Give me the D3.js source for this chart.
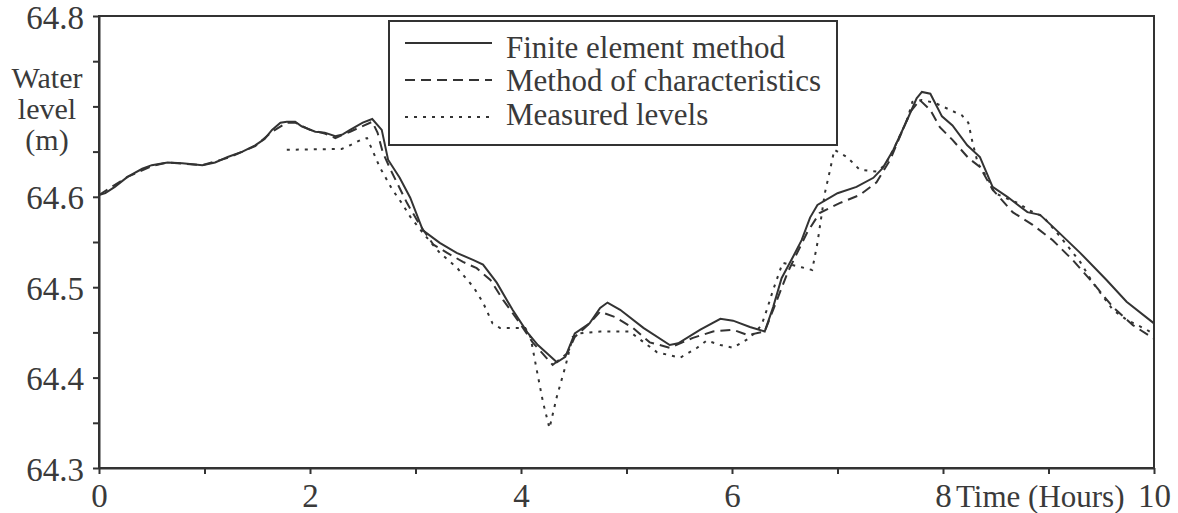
<!DOCTYPE html>
<html>
<head>
<meta charset="utf-8">
<script src="https://cdn.jsdelivr.net/npm/d3@7"></script>
</head>
<body style="margin:0">
<script>
// finite element method (solid)
const femT = [0, 0.06, 0.15, 0.27, 0.41, 0.5, 0.65, 0.79, 0.98, 1.1, 1.22, 1.36, 1.48, 1.57, 1.64, 1.72, 1.78, 1.86, 1.92, 2.05, 2.14, 2.24, 2.31, 2.38, 2.5, 2.59, 2.68, 2.74, 2.85, 2.95, 3.07, 3.23, 3.39, 3.55, 3.64, 3.77, 3.92, 4.06, 4.16, 4.34, 4.42, 4.51, 4.65, 4.75, 4.82, 4.94, 5.16, 5.41, 5.49, 5.7, 5.89, 6.01, 6.17, 6.31, 6.39, 6.47, 6.58, 6.66, 6.74, 6.81, 7.0, 7.18, 7.34, 7.43, 7.53, 7.66, 7.75, 7.8, 7.88, 7.99, 8.09, 8.23, 8.35, 8.47, 8.61, 8.8, 8.92, 9.04, 9.3, 9.55, 9.74, 10];
const femH = [64.602, 64.604, 64.611, 64.622, 64.631, 64.635, 64.638, 64.637, 64.635, 64.638, 64.644, 64.65, 64.657, 64.664, 64.674, 64.682, 64.683, 64.683, 64.678, 64.672, 64.671, 64.667, 64.669, 64.674, 64.682, 64.686, 64.674, 64.641, 64.621, 64.599, 64.563, 64.549, 64.538, 64.53, 64.525, 64.505, 64.475, 64.45, 64.436, 64.417, 64.423, 64.449, 64.46, 64.477, 64.483, 64.475, 64.455, 64.436, 64.438, 64.453, 64.465, 64.463, 64.456, 64.451, 64.478, 64.51, 64.534, 64.552, 64.577, 64.591, 64.604, 64.611, 64.621, 64.632, 64.652, 64.685, 64.709, 64.716, 64.714, 64.689, 64.679, 64.657, 64.644, 64.611, 64.6, 64.583, 64.58, 64.567, 64.538, 64.508, 64.484, 64.46];

// method of characteristics (dashed)
const mocT = [0, 0.27, 0.5, 0.65, 0.98, 1.22, 1.48, 1.64, 1.78, 1.86, 2.0, 2.14, 2.24, 2.38, 2.59, 2.64, 2.69, 2.78, 2.92, 3.04, 3.17, 3.3, 3.45, 3.58, 3.71, 3.83, 3.99, 4.11, 4.3, 4.44, 4.51, 4.65, 4.75, 4.89, 5.06, 5.22, 5.41, 5.63, 5.82, 6.01, 6.15, 6.31, 6.39, 6.53, 6.71, 6.83, 7.02, 7.21, 7.37, 7.5, 7.69, 7.78, 7.88, 7.97, 8.09, 8.24, 8.35, 8.47, 8.66, 8.85, 9.04, 9.23, 9.42, 9.61, 9.8, 10];
const mocH = [64.602, 64.622, 64.634, 64.638, 64.635, 64.643, 64.656, 64.672, 64.682, 64.682, 64.674, 64.67, 64.665, 64.672, 64.683, 64.671, 64.649, 64.626, 64.593, 64.569, 64.547, 64.538, 64.528, 64.521, 64.508, 64.486, 64.46, 64.439, 64.414, 64.427, 64.445, 64.46, 64.473, 64.467, 64.455, 64.439, 64.433, 64.444, 64.451, 64.453, 64.447, 64.451, 64.475, 64.517, 64.56, 64.582, 64.593, 64.602, 64.616, 64.641, 64.694, 64.707, 64.696, 64.677, 64.663, 64.643, 64.633, 64.608, 64.583, 64.569, 64.552, 64.53, 64.505, 64.478, 64.458, 64.443];

// measured levels (dotted)
const meaT = [1.78, 2.3, 2.38, 2.5, 2.54, 2.59, 2.66, 2.78, 2.87, 2.95, 3.07, 3.23, 3.39, 3.55, 3.64, 3.73, 3.8, 4.04, 4.09, 4.15, 4.21, 4.27, 4.34, 4.42, 4.49, 4.56, 4.75, 5.03, 5.13, 5.29, 5.51, 5.67, 5.76, 5.89, 6.01, 6.17, 6.28, 6.33, 6.39, 6.48, 6.66, 6.76, 6.81, 6.88, 6.93, 6.97, 7.09, 7.21, 7.37, 7.45, 7.53, 7.66, 7.71, 7.8, 7.92, 8.07, 8.18, 8.24, 8.28, 8.33, 8.43, 8.49, 8.57, 8.71, 8.82, 8.95, 9.11, 9.3, 9.42, 9.61, 9.74, 9.93, 10];
const meaH = [64.652, 64.653, 64.657, 64.664, 64.665, 64.652, 64.633, 64.608, 64.593, 64.578, 64.56, 64.538, 64.522, 64.5, 64.483, 64.46, 64.455, 64.455, 64.445, 64.408, 64.372, 64.344, 64.379, 64.412, 64.445, 64.449, 64.451, 64.451, 64.442, 64.428, 64.422, 64.433, 64.441, 64.436, 64.433, 64.444, 64.458, 64.475, 64.497, 64.527, 64.522, 64.519, 64.549, 64.604, 64.63, 64.652, 64.644, 64.63, 64.628, 64.635, 64.652, 64.685, 64.705, 64.707, 64.704, 64.696, 64.69, 64.682, 64.66, 64.637, 64.619, 64.604, 64.6, 64.593, 64.585, 64.578, 64.556, 64.528, 64.505, 64.475, 64.464, 64.453, 64.448];

const xTicks = [0, 1, 2, 3, 4, 5, 6, 7, 8, 9, 10];
const xLabels = [0, 2, 4, 6, 8, 10];
const yTicks = [64.3, 64.35, 64.4, 64.45, 64.5, 64.55, 64.6, 64.65, 64.7, 64.75, 64.8];
const yLabels = [64.3, 64.4, 64.5, 64.6, 64.8];
const seriesNames = ["Finite element method", "Method of characteristics", "Measured levels"];
const dashes = [null, "10,6", "3,6"];

const W = 1178, H = 513;
const margin = {top: 16, right: 24, bottom: 45, left: 99};
const ink = "#3a3a3a";

const svg = d3.select("body").append("svg")
    .attr("width", W)
    .attr("height", H)
    .style("font-family", "Liberation Serif");

const x = d3.scaleLinear().domain([0, 10]).range([margin.left, W - margin.right]);
const y = d3.scaleLinear().domain([64.3, 64.8]).range([H - margin.bottom, margin.top]);

// frame
svg.append("rect")
    .attr("x", x(0)).attr("y", y(64.8))
    .attr("width", x(10) - x(0)).attr("height", y(64.3) - y(64.8))
    .attr("fill", "none").attr("stroke", "#333").attr("stroke-width", 2);

function styleAxis(g) {
    g.attr("font-family", "Liberation Serif");
    g.selectAll(".domain, .tick line").attr("stroke", "#333").attr("stroke-width", 2);
    g.selectAll("text").style("font-family", "Liberation Serif").attr("font-size", 33).attr("fill", ink).attr("dy", null);
}

const xAxis = svg.append("g")
    .attr("transform", `translate(0,${y(64.3)})`)
    .call(d3.axisBottom(x).tickValues(xTicks).tickSize(6).tickSizeOuter(0)
        .tickFormat(d => xLabels.includes(d) ? d : ""))
    .call(styleAxis);
xAxis.selectAll("text").attr("y", 39);

svg.append("text")
    .attr("x", x(8) + 13).attr("y", y(64.3) + 39)
    .style("font-family", "Liberation Serif").attr("font-size", 31).attr("fill", ink)
    .text("Time (Hours)");

const yAxis = svg.append("g")
    .attr("transform", `translate(${x(0)},0)`)
    .call(d3.axisLeft(y).tickValues(yTicks).tickSize(6).tickSizeOuter(0)
        .tickFormat(d => yLabels.some(v => Math.abs(v - d) < 1e-6) ? d3.format(".1f")(d) : ""))
    .call(styleAxis);
yAxis.selectAll("text").attr("y", 12).attr("x", -15);

[["Water", 88], ["level", 119], ["(m)", 150]].forEach(([t, yy]) => {
    svg.append("text")
        .attr("x", 47).attr("y", yy)
        .attr("text-anchor", "middle")
        .style("font-family", "Liberation Serif").attr("font-size", 30).attr("fill", ink)
        .text(t);
});

const line = d3.line().x(d => x(d[0])).y(d => y(d[1]));
const series = [d3.zip(femT, femH), d3.zip(mocT, mocH), d3.zip(meaT, meaH)];

series.forEach((s, i) => {
    svg.append("path")
        .datum(s)
        .attr("d", line)
        .attr("fill", "none")
        .attr("stroke", "#333")
        .attr("stroke-width", 2)
        .attr("stroke-dasharray", dashes[i]);
});

// legend
const lg = svg.append("g");
lg.append("rect")
    .attr("x", 389).attr("y", 21).attr("width", 448).attr("height", 124)
    .attr("fill", "#fff").attr("stroke", "#333").attr("stroke-width", 2);
const lineY = [43, 80, 117], textY = [58, 91, 125];
seriesNames.forEach((name, i) => {
    lg.append("line")
        .attr("x1", 405).attr("x2", 492)
        .attr("y1", lineY[i]).attr("y2", lineY[i])
        .attr("stroke", "#333").attr("stroke-width", 2)
        .attr("stroke-dasharray", dashes[i]);
    lg.append("text")
        .attr("x", 506).attr("y", textY[i])
        .style("font-family", "Liberation Serif").attr("font-size", 31).attr("fill", ink)
        .text(name);
});
</script>
</body>
</html>
